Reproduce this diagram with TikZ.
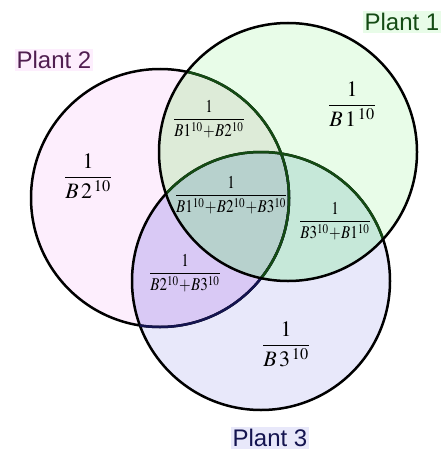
\documentclass[tikz,border=0pt]{standalone}
\usepackage{amsmath}
\usepackage{graphicx}
\usepackage{mathptmx}
\usepackage{fontspec}
\newfontfamily\labelfont{Liberation Sans}
\usetikzlibrary{positioning}
\definecolor{pone}{RGB}{232,252,232}
\definecolor{ptwo}{RGB}{253,238,253}
\definecolor{pthree}{RGB}{232,232,250}
\definecolor{onetwo}{RGB}{221,235,216}
\definecolor{onethree}{RGB}{198,232,217}
\definecolor{twothree}{RGB}{217,201,245}
\definecolor{allthree}{RGB}{183,209,205}
\definecolor{dkgreen}{RGB}{20,75,20}
\definecolor{dknavy}{RGB}{20,20,80}
\definecolor{dkplum}{RGB}{80,30,80}
\newcommand{\tallfrac}[2]{\scalebox{1}[1.2]{$\dfrac{#1}{#2}$}}

\begin{document}
\begin{tikzpicture}[x=1pt,y=-1pt,
  circ/.style={line width=2.5pt},
  plant/.style={font=\labelfont\fontsize{24}{26}\selectfont,inner sep=2pt},
  big/.style={font=\fontsize{22}{24}\selectfont},
  small/.style={font=\fontsize{15}{17}\selectfont,inner sep=0pt}]
  \useasboundingbox (0,0) rectangle (442,452);
  \coordinate (c1) at (288,152);
  \coordinate (c2) at (160,198);
  \coordinate (c3) at (261,281);
  % base fills
  \fill[ptwo] (c2) circle[radius=129];
  \fill[pone] (c1) circle[radius=129];
  \fill[pthree] (c3) circle[radius=129];
  \begin{scope}
    \clip (c2) circle[radius=129];
    \fill[twothree] (c3) circle[radius=129];
  \end{scope}
  \begin{scope}
    \clip (c1) circle[radius=129];
    \fill[onetwo] (c2) circle[radius=129];
    \fill[onethree] (c3) circle[radius=129];
    \clip (c2) circle[radius=129];
    \fill[allthree] (c3) circle[radius=129];
  \end{scope}
  % borders
  \draw[circ] (c2) circle[radius=129] (c3) circle[radius=129];
  \begin{scope}
    \clip (c3) circle[radius=129];
    \draw[circ,dknavy] (c2) circle[radius=129];
  \end{scope}
  \begin{scope}
    \clip (c1) circle[radius=129];
    \draw[circ,dkgreen] (c2) circle[radius=129] (c3) circle[radius=129];
  \end{scope}
  \draw[circ] (c1) circle[radius=129];
  % labels
  \node[plant,fill=pone,text=dkgreen] (p1) at (402,22) {Plant 1};
  \node[plant,fill=ptwo,text=dkplum] (p2) at (54,60) {Plant 2};
  \node[plant,fill=pthree,text=dknavy] (p3) at (270,438) {Plant 3};
  \node[big] (f1) at (352,104) {\boldmath$\dfrac{1}{B\,1^{\,10}}$};
  \node[big] (f2) at (88,176) {\boldmath$\dfrac{1}{B\,2^{\,10}}$};
  \node[big] (f3) at (286,344) {$\dfrac{1}{B\,3^{\,10}}$};
  \node[small] (f12) at (209,119) {\tallfrac{1}{B1^{10}\!+\!B2^{10}}};
  \node[small] (f123) at (231,195) {\tallfrac{1}{B1^{10}\!+\!B2^{10}\!+\!B3^{10}}};
  \node[small] (f13) at (335,221) {\tallfrac{1}{B3^{10}\!+\!B1^{10}}};
  \node[small] (f23) at (185,273) {\tallfrac{1}{B2^{10}\!+\!B3^{10}}};
\end{tikzpicture}
\end{document}
